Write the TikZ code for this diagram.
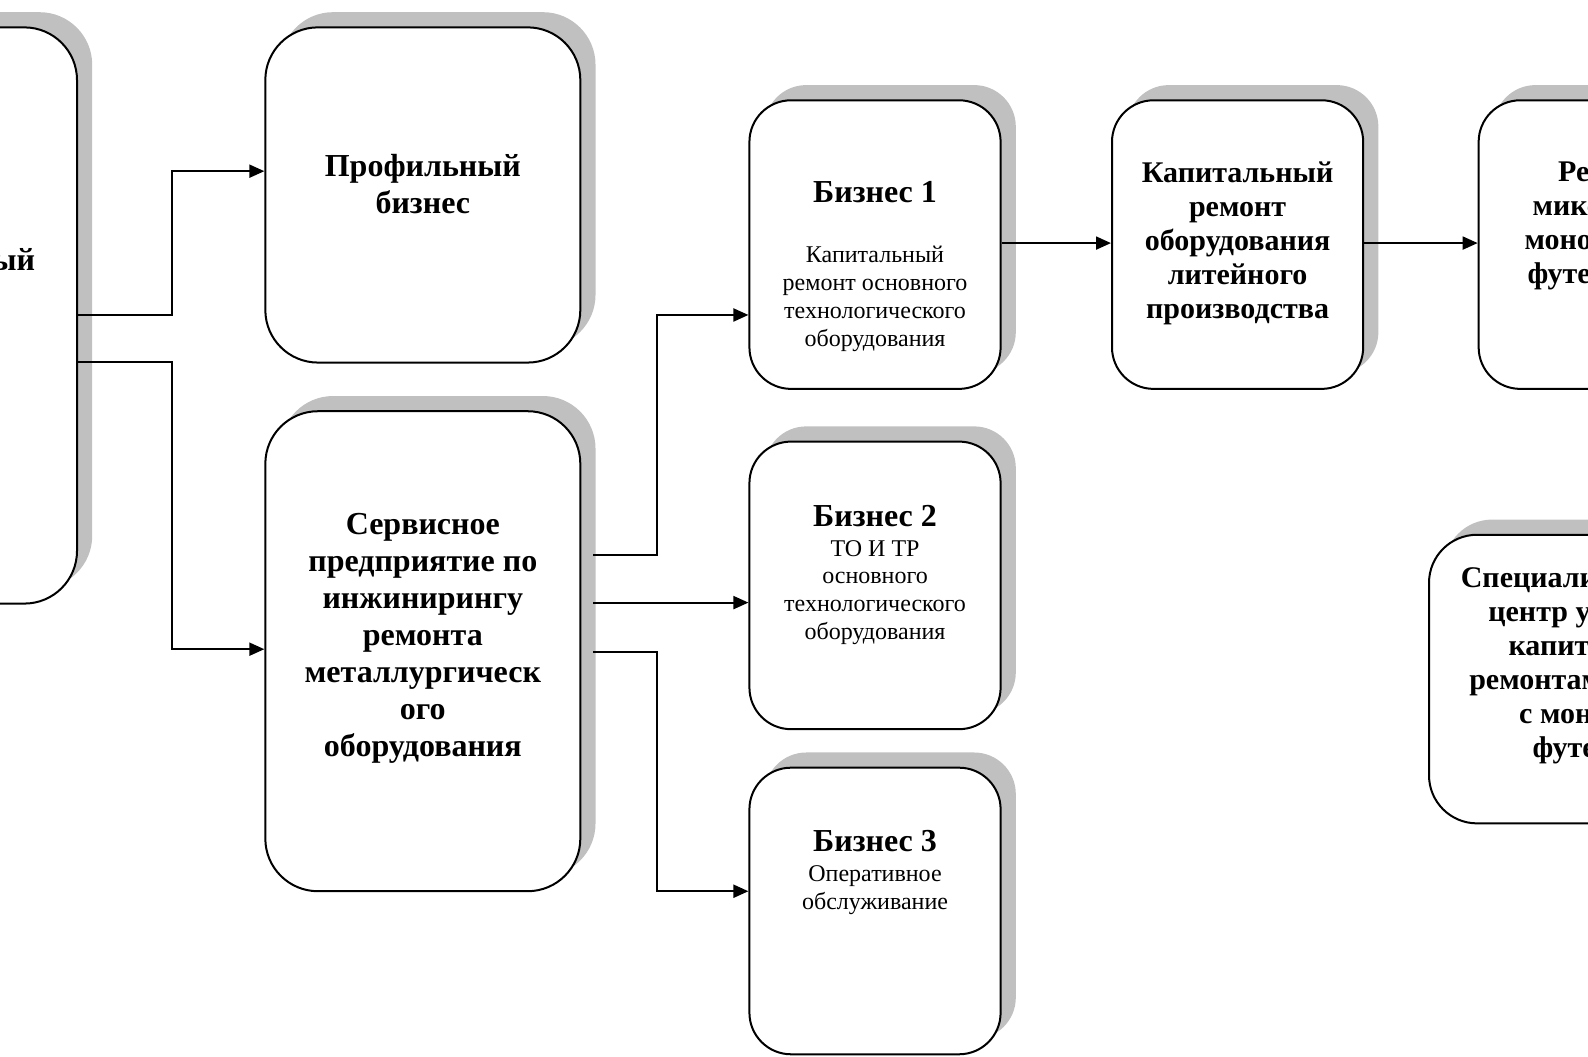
\documentclass[tikz,border=0pt]{standalone}
\usepackage{fontspec}
\setmainfont{Liberation Serif}
\usetikzlibrary{arrows.meta,shadows,calc}
\definecolor{shadowgray}{RGB}{192,192,192}
\tikzset{
  box/.style={draw, line width=1pt, fill=white, inner sep=0pt,
    general shadow={fill=shadowgray, shadow xshift=7.6pt, shadow yshift=7.6pt}},
  bigtxt/.style={font=\fontsize{16pt}{18.5pt}\selectfont\bfseries, align=center,
    inner sep=0pt, anchor=north},
  medtxt/.style={font=\fontsize{15pt}{17pt}\selectfont\bfseries, align=center,
    inner sep=0pt, anchor=north},
  smalltxt/.style={font=\fontsize{12pt}{13.9pt}\selectfont, align=center,
    inner sep=0pt, anchor=north},
  arr/.style={line width=1pt, -{Triangle[length=7.5pt,width=6.5pt]}},
}
\begin{document}
\begin{tikzpicture}[x=0.5064pt, y=-0.5064pt]
\useasboundingbox (0,0) rectangle (1568,1043);
\clip (0,0) rectangle (1568,1043);

% boxes
\node[box, rounded corners=26.3pt, minimum width=139.8pt, minimum height=288.1pt] (L) at (-62,311.5) {};
\node[box, rounded corners=26.3pt, minimum width=157.5pt, minimum height=167.6pt] (P) at (417.5,192.5) {};
\node[box, rounded corners=26.3pt, minimum width=157.5pt, minimum height=240pt] (S) at (417.5,643) {};
\node[box, rounded corners=20.8pt, minimum width=125.6pt, minimum height=144.3pt] (B1) at (864,241.5) {};
\node[box, rounded corners=20.8pt, minimum width=125.6pt, minimum height=143.8pt] (B2) at (864,578) {};
\node[box, rounded corners=20.8pt, minimum width=125.6pt, minimum height=143.3pt] (B3) at (864,899.5) {};
\node[box, rounded corners=20.8pt, minimum width=125.6pt, minimum height=144.3pt] (K) at (1222,241.5) {};
\node[box, rounded corners=20.8pt, minimum width=128.6pt, minimum height=144.3pt] (R1) at (1587,241.5) {};
\node[box, rounded corners=24pt, minimum width=183.3pt, minimum height=144.3pt] (R2) at (1592,670.5) {};

% texts
\node[bigtxt, anchor=north east] (Lt) at (35,245) {Производственный};
\node[bigtxt] (Pt) at (417.5,152) {Профильный\\бизнес};
\node[bigtxt] (St) at (417.5,506) {Сервисное\\предприятие по\\инжинирингу\\ремонта\\металлургическ\\ого\\оборудования};
\node[bigtxt] (B1h) at (864,179) {Бизнес 1};
\node[smalltxt] (B1t) at (864,243) {Капитальный\\ремонт основного\\технологического\\оборудования};
\node[bigtxt] (B2h) at (864,499) {Бизнес 2};
\node[smalltxt] (B2t) at (864,533) {ТО И ТР\\основного\\технологического\\оборудования};
\node[bigtxt] (B3h) at (864,819) {Бизнес 3};
\node[smalltxt] (B3t) at (864,854) {Оперативное\\обслуживание};
\node[medtxt] (Kt) at (1222,159) {Капитальный\\ремонт\\оборудования\\литейного\\производства};
\node[medtxt] (R1t) at (1587,159) {Ремонт\\миксеров с\\монолитной\\футеровкой};
\node[medtxt] (R2t) at (1592,559) {Специализированный\\центр управления\\капитальными\\ремонтами миксеров\\с монолитной\\футеровкой};

% connectors
\draw[arr] (L.east) -- ++(93,0) |- ($(P.west)+(0,-23.5)$);
\draw[arr] ($(L.east)+(0,45.5)$) -- ++(93,0) |- ($(S.west)+(0,-2)$);
\draw[arr] ($(S.east)+(12,-95)$) -- ++(63,0) |- ($(B1.west)+(0,69.5)$);
\draw[arr] ($(S.east)+(12,-48)$) -- ($(B2.west)+(0,17)$);
\draw[arr] ($(S.east)+(12,1)$) -- ++(63,0) |- ($(B3.west)+(0,-19.5)$);
\draw[arr] ($(B1.east)+(0,-1.5)$) -- ($(K.west)+(0,-1.5)$);
\draw[arr] ($(K.east)+(0,-1.5)$) -- ($(R1.west)+(0,-1.5)$);
\end{tikzpicture}
\end{document}
